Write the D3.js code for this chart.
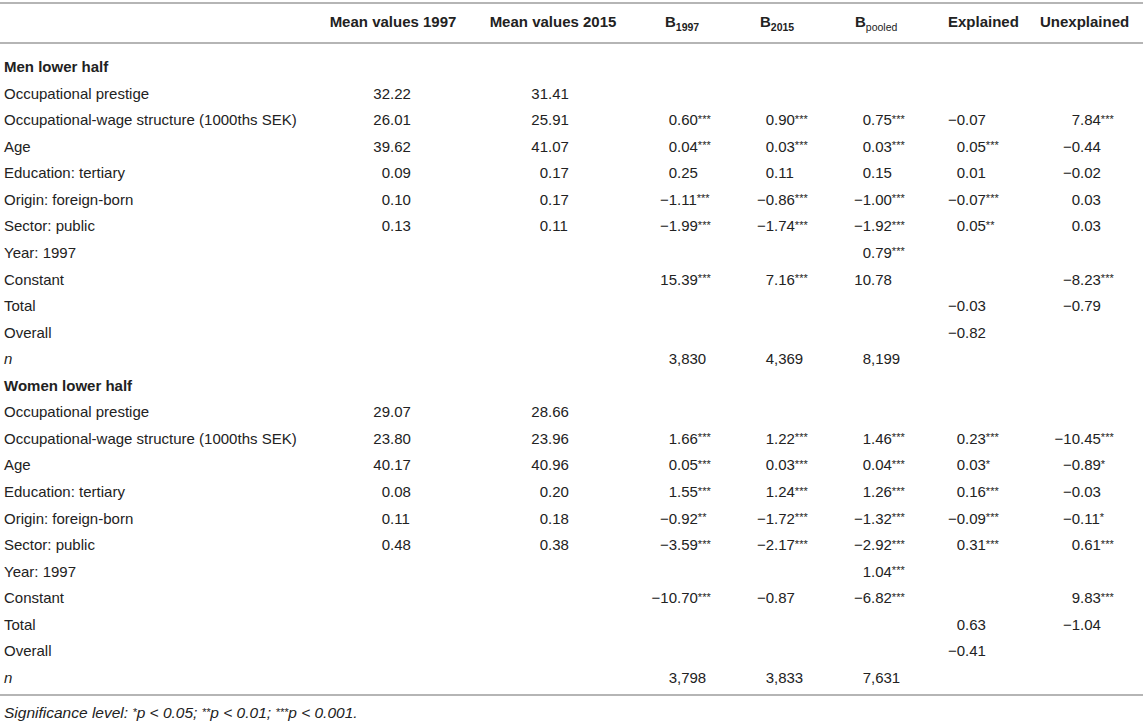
<!DOCTYPE html>
<html lang="en">
<head>
    <meta charset="UTF-8">
    <script src="https://d3js.org/d3.v7.min.js"></script>
    <style>
        body {
            margin: 0;
            font-family: "Liberation Sans", Arial, sans-serif;
            background: #fff;
        }
        .cell {
            font-size: 15px;
            fill: #222;
        }
        .head {
            font-size: 15px;
            font-weight: bold;
            fill: #222;
        }
        .rule {
            stroke: #b5b5b5;
            stroke-width: 2px;
        }
    </style>
</head>
<body>
    <div id="chart"></div>

    <script>
        // column headers (main text + subscript)
        const headMain = ["Mean values 1997", "Mean values 2015", "B", "B", "B", "Explained", "Unexplained"];
        const headSub = ["", "", "1997", "2015", "pooled", "", ""];
        const colKeys = ["m97", "m15", "b97", "b15", "bp", "ex", "un"];

        const rowLabels = [
            "Occupational prestige",
            "Occupational-wage structure (1000ths SEK)",
            "Age",
            "Education: tertiary",
            "Origin: foreign-born",
            "Sector: public",
            "Year: 1997",
            "Constant",
            "Total",
            "Overall",
            "n"
        ];

        const groups = ["Men lower half", "Women lower half"];

        // Men lower half
        const menMean1997 = ["32.22", "26.01", "39.62", "0.09", "0.10", "0.13", "", "", "", "", ""];
        const menMean2015 = ["31.41", "25.91", "41.07", "0.17", "0.17", "0.11", "", "", "", "", ""];
        const menB1997 = ["", "0.60***", "0.04***", "0.25", "−1.11***", "−1.99***", "", "15.39***", "", "", "3,830"];
        const menB2015 = ["", "0.90***", "0.03***", "0.11", "−0.86***", "−1.74***", "", "7.16***", "", "", "4,369"];
        const menBpooled = ["", "0.75***", "0.03***", "0.15", "−1.00***", "−1.92***", "0.79***", "10.78", "", "", "8,199"];
        const menExplained = ["", "−0.07", "0.05***", "0.01", "−0.07***", "0.05**", "", "", "−0.03", "−0.82", ""];
        const menUnexplained = ["", "7.84***", "−0.44", "−0.02", "0.03", "0.03", "", "−8.23***", "−0.79", "", ""];

        // Women lower half
        const womenMean1997 = ["29.07", "23.80", "40.17", "0.08", "0.11", "0.48", "", "", "", "", ""];
        const womenMean2015 = ["28.66", "23.96", "40.96", "0.20", "0.18", "0.38", "", "", "", "", ""];
        const womenB1997 = ["", "1.66***", "0.05***", "1.55***", "−0.92**", "−3.59***", "", "−10.70***", "", "", "3,798"];
        const womenB2015 = ["", "1.22***", "0.03***", "1.24***", "−1.72***", "−2.17***", "", "−0.87", "", "", "3,833"];
        const womenBpooled = ["", "1.46***", "0.04***", "1.26***", "−1.32***", "−2.92***", "1.04***", "−6.82***", "", "", "7,631"];
        const womenExplained = ["", "0.23***", "0.03*", "0.16***", "−0.09***", "0.31***", "", "", "0.63", "−0.41", ""];
        const womenUnexplained = ["", "−10.45***", "−0.89*", "−0.03", "−0.11*", "0.61***", "", "9.83***", "−1.04", "", ""];

        const footnote = "Significance level: ";
        const sigLevels = [["*", "p < 0.05; "], ["**", "p < 0.01; "], ["***", "p < 0.001."]];

        const width = 1143, height = 723;

        const svg = d3.select("#chart")
            .append("svg")
            .attr("width", width)
            .attr("height", height);

        // build rows
        const groupCols = [
            [menMean1997, menMean2015, menB1997, menB2015, menBpooled, menExplained, menUnexplained],
            [womenMean1997, womenMean2015, womenB1997, womenB2015, womenBpooled, womenExplained, womenUnexplained]
        ];
        const rows = [];
        groups.forEach((g, gi) => {
            rows.push({id: g, label: g, heading: true, cells: []});
            rowLabels.forEach((lab, ri) => {
                rows.push({
                    id: g + "|" + lab,
                    label: lab,
                    heading: false,
                    cells: colKeys.map((k, ci) => ({key: k, value: groupCols[gi][ci][ri]}))
                });
            });
        });

        const y = d3.scalePoint()
            .domain(rows.map(d => d.id))
            .range([67, 678]);

        // decimal anchor of each column
        const xDec = d3.scaleOrdinal()
            .domain(colKeys)
            .range([390, 548, 677, 774, 871, 965, 1080]);

        // header start / centre
        const xHead = d3.scaleOrdinal()
            .domain(colKeys)
            .range([393, 553, 665, 760, 855, 948, 1040]);

        // rules
        [3, 43, 695].forEach(ly => {
            svg.append("line").attr("class", "rule")
                .attr("x1", 0).attr("x2", width)
                .attr("y1", ly).attr("y2", ly);
        });

        // header
        colKeys.forEach((k, i) => {
            const t = svg.append("text")
                .attr("class", "head")
                .attr("x", xHead(k))
                .attr("y", 27)
                .attr("text-anchor", i < 2 ? "middle" : "start")
                .text(headMain[i]);
            if (headSub[i]) {
                t.append("tspan")
                    .attr("font-size", "10.5px")
                    .attr("font-weight", headSub[i] === "pooled" ? "normal" : "bold")
                    .attr("dy", 4)
                    .text(headSub[i]);
            }
        });

        // row labels
        svg.selectAll(".rowlabel")
            .data(rows)
            .enter()
            .append("text")
            .attr("class", "cell rowlabel")
            .attr("x", 4)
            .attr("y", d => y(d.id) + 5)
            .style("font-weight", d => d.heading ? "bold" : "normal")
            .style("font-style", d => d.label === "n" ? "italic" : "normal")
            .text(d => d.label);

        // cells, aligned on the decimal mark; stars hang as superscripts
        const cells = rows.flatMap(r => r.cells.filter(c => c.value).map(c => ({...c, row: r.id})));
        const re = /^(−?\d+)([.,]\d+)?(\**)$/;

        const cg = svg.selectAll(".val")
            .data(cells)
            .enter()
            .append("g")
            .attr("class", "val")
            .attr("transform", d => `translate(${xDec(d.key)},${y(d.row) + 5})`);

        cg.append("text")
            .attr("class", "cell")
            .attr("text-anchor", "end")
            .text(d => re.exec(d.value)[1]);

        const rest = cg.append("text")
            .attr("class", "cell")
            .attr("text-anchor", "start");
        rest.append("tspan").text(d => re.exec(d.value)[2] || "");
        rest.append("tspan")
            .attr("font-size", "11px")
            .attr("dy", -2.5)
            .text(d => re.exec(d.value)[3]);

        // footnote
        const fn = svg.append("text")
            .attr("class", "cell")
            .attr("x", 4)
            .attr("y", 718)
            .style("font-size", "15.5px")
            .style("font-style", "italic");
        fn.append("tspan").text(footnote);
        sigLevels.forEach(([s, t]) => {
            fn.append("tspan").attr("font-size", "11px").attr("dy", -2.5).text(s);
            fn.append("tspan").attr("dy", 2.5).text(t);
        });
    </script>
</body>
</html>
